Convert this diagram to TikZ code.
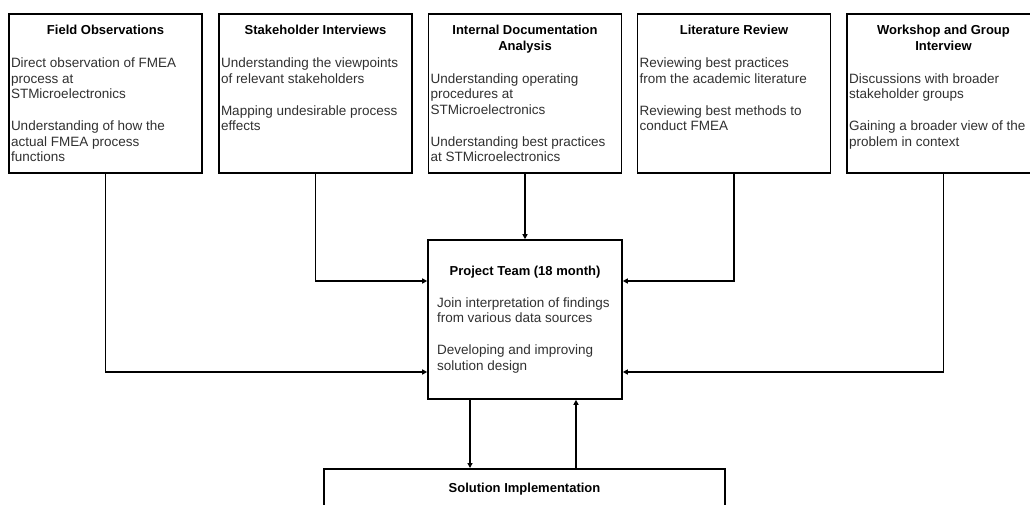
\documentclass[tikz,border=0pt]{standalone}
\usepackage{fontspec}
\setmainfont{Liberation Sans}
\usetikzlibrary{arrows.meta,positioning}

\definecolor{bodygray}{HTML}{303030}
\newlength{\srcw}\setlength{\srcw}{189pt}
\newlength{\bodyw}\setlength{\bodyw}{178.5pt}
\newcommand{\bodyfont}{\leavevmode\fontsize{13.5}{15.5}\selectfont\mdseries\color{bodygray}}
\newcommand{\pgap}{\par\vspace{16.5pt}}
\newcommand{\srctext}[2]{\parbox[c][136.4pt][t]{\srcw}{\centering\bfseries #1\par
  \vspace{17.5pt}\raggedright\parbox[t]{\bodyw}{\raggedright\bodyfont #2}}}

\begin{document}
\begin{tikzpicture}[
  x=1pt, y=-1pt,
  srcbox/.style={rectangle, draw, line width=1.6pt, anchor=north,
                 inner xsep=2pt, inner ysep=11.3pt,
                 font=\fontsize{13}{15.5}\selectfont},
  teambox/.style={rectangle, draw, line width=1.6pt, minimum width=194pt,
                  minimum height=159pt, inner sep=0pt,
                  font=\fontsize{13}{15.5}\selectfont},
  implbox/.style={rectangle, draw, line width=1.6pt, anchor=north,
                  minimum width=401pt, inner xsep=0pt, inner ysep=14.3pt,
                  font=\fontsize{13}{15.5}\selectfont\bfseries},
  arrow/.style={-{Triangle[length=5pt,width=5pt]}, line width=1.3pt}
]
  \useasboundingbox (0,0) rectangle (1030,505);
  \clip (0,0) rectangle (1030,505);

  % data sources
  \node[srcbox] (field) at (105.5,13) {\srctext{Field Observations}{Direct observation of FMEA process at STMicroelectronics\pgap Understanding of how the actual FMEA process functions}};
  \node[srcbox] (stake) at (315.5,13) {\srctext{Stakeholder Interviews}{Understanding the viewpoints of relevant stakeholders\pgap Mapping undesirable process effects}};
  \node[srcbox] (docs) at (525,13) {\srctext{Internal Documentation\\Analysis}{Understanding operating procedures at STMicroelectronics\pgap Understanding best practices at STMicroelectronics}};
  \node[srcbox] (lit) at (734,13) {\srctext{Literature Review}{Reviewing best practices from the academic literature\pgap Reviewing best methods to conduct FMEA}};
  \node[srcbox] (work) at (943.5,13) {\srctext{Workshop and Group\\Interview}{Discussions with broader stakeholder groups\pgap Gaining a broader view of the problem in context}};

  % project team and implementation
  \node[teambox] (team) at (525,319.5) {\parbox{176pt}{\centering\bfseries Project Team (18 month)\par
    \vspace{16.5pt}\raggedright\bodyfont Join interpretation of findings from various data sources\pgap Developing and improving solution design}};
  \node[implbox] (impl) at (524.5,468) {\parbox[c][130pt][t]{401pt}{\centering Solution Implementation}};

  \draw[arrow] (field.south) |- ([yshift=-52.5pt]team.west);
  \draw[arrow] (stake.south) |- ([yshift=38.5pt]team.west);
  \draw[arrow] (docs) -- (team);
  \draw[arrow] (lit.south) |- ([yshift=38.5pt]team.east);
  \draw[arrow] (work.south) |- ([yshift=-52.5pt]team.east);
  \draw[arrow] ([xshift=-55pt]team.south) -- ([xshift=-55pt]team.south |- impl.north);
  \draw[arrow] ([xshift=51pt]team.south |- impl.north) -- ([xshift=51pt]team.south);
\end{tikzpicture}
\end{document}
